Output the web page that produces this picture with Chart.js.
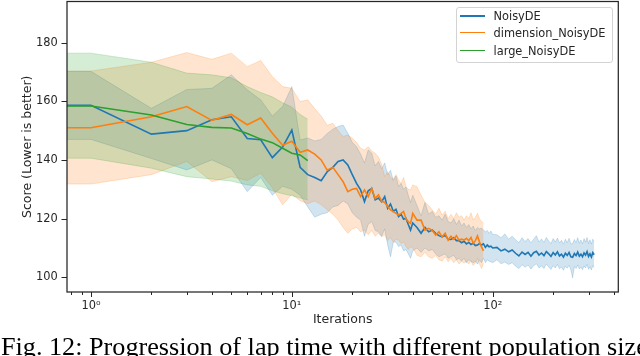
<!DOCTYPE html>
<html>
<head>
<meta charset="utf-8">
<script src="https://cdn.jsdelivr.net/npm/chart.js@4.4.1/dist/chart.umd.min.js"></script>
<style>
  html, body { margin: 0; padding: 0; background: #fff; }
  #wrap { position: relative; width: 640px; height: 356px; overflow: hidden; }
  #chart { position: absolute; left: 0; top: 0; }
  .legend { position: absolute; left: 456px; top: 7px; width: 155px; height: 54px;
            border: 1px solid #d3d3d3; border-radius: 3px; background: rgba(255,255,255,0.8);
            font: 11.4px 'DejaVu Sans'; color: #262626; }
  .legend .row { position: absolute; left: 0; height: 14px; line-height: 14px; width: 150px; }
  .legend .swatch { position: absolute; left: 2.5px; top: 6px; width: 25px; height: 0; border-top: 1.6px solid; }
  .legend .label { position: absolute; left: 36.5px; top: 0; white-space: nowrap; }
  .caption { position: absolute; left: 1px; top: 333.5px; font: 26.2px/26px 'Liberation Serif';
             white-space: nowrap; color: #000; }
</style>
</head>
<body>
<div id="wrap">
  <canvas id="chart" width="640" height="356"></canvas>
  <div class="legend">
    <div class="row" style="top:1px"><span class="swatch" style="border-color:#1f77b4;border-top-width:2px"></span><span class="label">NoisyDE</span></div>
    <div class="row" style="top:18.3px"><span class="swatch" style="border-color:#ff7f0e;border-top-width:1.2px"></span><span class="label">dimension_NoisyDE</span></div>
    <div class="row" style="top:36px"><span class="swatch" style="border-color:#2ca02c"></span><span class="label">large_NoisyDE</span></div>
  </div>
  <div class="caption">Fig. 12: Progression of lap time with different population size</div>
</div>
<script>
// NoisyDE
const noisyIter = [
  1, 2, 3, 4, 5, 6, 7, 8, 9, 10, 11, 12, 13, 14, 15, 16, 17, 18, 19, 20,
  21, 22, 23, 24, 25, 26, 27, 28, 29, 30, 31, 32, 33, 34, 35, 36, 37, 38, 39, 40,
  42, 44, 46, 48, 50, 52, 54, 56, 58, 60, 62, 64, 66, 68, 70, 72, 74, 76, 78, 80,
  82, 84, 86, 88, 90, 92, 94, 96, 98, 100,
  105, 110, 115, 120, 125, 130, 135, 140, 145, 150, 155, 160, 165, 170, 175, 180, 185, 190, 195, 200,
  205, 210, 215, 220, 225, 230, 235, 240, 245, 250, 255, 260, 265, 270, 275, 280, 285, 290, 295, 300,
  305, 310, 315, 320
];
const noisyMean = [
  158.6, 148.8, 150.0, 153.7, 154.7, 147.3, 146.9, 140.8, 144.4, 150.2,
  137.5, 135.0, 134.0, 132.9, 136.0, 137.5, 139.5, 140.0, 138.3, 135.0,
  132.0, 129.8, 125.8, 129.5, 130.3, 126.4, 127.0, 125.8, 127.5, 123.5,
  125.0, 122.5, 123.2, 120.7, 121.5, 119.8, 120.1, 118.0, 116.1, 118.5,
  117.0, 115.0, 117.0, 115.5, 116.1, 115.0, 114.2, 113.8, 114.3, 113.0,
  112.9, 113.5, 112.5, 112.5, 111.8, 112.3, 111.4, 111.9, 111.2, 111.6,
  110.8, 111.0, 111.5, 111.0, 111.4, 110.2, 111.0, 110.4, 110.6, 110.0,
  110.2, 109.0, 109.6, 108.7, 109.3, 108.2, 107.3, 108.6, 107.8, 108.5,
  107.2, 108.4, 108.9, 107.6, 108.3, 107.4, 108.8, 108.0, 107.1, 108.4,
  107.6, 108.7, 107.3, 107.9, 106.9, 108.2, 107.5, 108.5, 107.0, 106.8,
  108.1, 107.4, 108.6, 107.2, 107.9, 107.0, 108.3, 107.6, 108.8, 107.1,
  108.0, 106.9, 108.4, 107.7
];
const noisyHigh = [
  170.2, 157.6, 164.0, 164.4, 169.0, 163.9, 160.5, 155.0, 158.2, 165.0,
  146.8, 147.5, 146.5, 147.0, 149.0, 150.5, 151.4, 151.9, 149.1, 146.0,
  144.5, 142.0, 139.0, 143.4, 142.3, 138.0, 139.5, 137.0, 139.0, 134.9,
  136.5, 133.0, 134.5, 131.0, 132.0, 130.0, 130.8, 128.0, 125.5, 128.0,
  124.5, 121.0, 125.5, 121.5, 122.5, 120.5, 121.0, 119.5, 121.5, 119.0,
  118.5, 120.0, 118.0, 119.5, 117.5, 118.5, 117.0, 118.0, 116.5, 117.5,
  116.0, 117.0, 116.5, 116.8, 116.1, 115.5, 116.0, 115.0, 115.8, 114.6,
  114.5, 113.5, 114.8, 113.0, 114.0, 112.8, 111.8, 113.5, 112.2, 113.2,
  111.8, 113.0, 114.2, 112.0, 113.1, 111.9, 113.6, 112.4, 111.5, 113.2,
  112.0, 113.4, 111.7, 112.6, 111.3, 113.0, 111.8, 113.3, 111.4, 111.5,
  112.9, 111.8, 113.5, 111.6, 112.7, 111.4, 113.2, 112.0, 113.6, 111.5,
  112.8, 111.3, 113.0, 112.2
];
const noisyLow = [
  147.0, 140.5, 136.6, 140.0, 137.0, 129.2, 134.0, 128.0, 131.0, 130.0,
  128.0, 124.0, 120.5, 121.5, 122.0, 124.0, 124.5, 126.0, 125.0, 122.0,
  120.5, 119.5, 114.0, 118.0, 119.0, 116.0, 115.5, 114.0, 116.5, 111.0,
  107.0, 112.0, 112.0, 110.5, 111.0, 109.0, 109.5, 108.0, 106.5, 109.0,
  110.0, 108.5, 110.0, 109.0, 109.5, 108.0, 107.0, 107.5, 108.0, 106.5,
  107.0, 107.5, 106.0, 106.5, 105.5, 106.5, 105.0, 106.0, 105.5, 105.0,
  105.5, 104.5, 106.0, 105.0, 106.5, 105.0, 106.0, 105.5, 105.3, 105.0,
  106.0, 104.6, 105.2, 104.4, 105.0, 103.8, 103.0, 104.3, 103.4, 104.2,
  102.8, 104.0, 104.6, 103.2, 103.9, 103.0, 104.5, 103.5, 102.7, 104.0,
  103.2, 104.4, 102.9, 103.5, 102.4, 103.8, 103.1, 104.1, 102.5, 99.8,
  103.7, 103.0, 104.2, 102.8, 103.5, 102.6, 103.9, 103.2, 104.4, 102.7,
  103.6, 102.5, 104.0, 103.3
];

// dimension_NoisyDE
const dimIter = [
  1, 2, 3, 4, 5, 6, 7, 8, 9, 10, 11, 12, 13, 14, 15, 16, 17, 18, 19, 20,
  21, 22, 23, 24, 25, 26, 27, 28, 29, 30, 31, 32, 33, 34, 35, 36, 37, 38, 39, 40,
  42, 44, 46, 48, 50, 52, 54, 56, 58, 60, 62, 64, 66, 68, 70, 72, 74, 76, 78, 80,
  82, 84, 86, 88, 90
];
const dimMean = [
  151.0, 154.7, 158.2, 153.5, 155.5, 152.0, 154.3, 149.1, 145.0, 146.4,
  142.6, 143.4, 142.0, 140.0, 136.5, 137.5, 135.0, 132.6, 129.2, 130.0,
  130.3, 127.5, 129.8, 127.5, 130.3, 126.9, 128.1, 126.0, 125.5, 124.1,
  123.0, 122.4, 121.8, 121.2, 121.8, 122.4, 120.0, 119.0, 118.4, 121.8,
  119.5, 119.5, 116.1, 116.7, 116.0, 114.4, 115.5, 113.8, 115.0, 112.7,
  114.0, 113.0, 114.2, 112.7, 113.0, 112.7, 113.3, 112.5, 113.6, 111.6,
  112.5, 114.1, 112.0, 110.4, 109.0
];
const dimHigh = [
  170.3, 173.3, 176.6, 174.3, 176.4, 171.8, 173.9, 168.4, 165.0, 164.4,
  159.9, 160.5, 157.5, 155.0, 151.8, 152.5, 150.0, 148.0, 148.5, 147.4,
  146.0, 144.0, 143.4, 144.5, 143.0, 142.3, 141.0, 138.5, 134.3, 136.0,
  134.0, 133.5, 135.0, 133.2, 132.0, 134.0, 131.0, 130.0, 129.8, 131.5,
  130.9, 128.0, 125.5, 124.5, 123.0, 121.5, 123.5, 121.2, 122.5, 120.0,
  121.5, 120.0, 122.0, 120.5, 121.0, 119.5, 121.0, 120.0, 122.0, 119.5,
  120.5, 121.8, 120.0, 119.0, 118.5
];
const dimLow = [
  131.8, 135.0, 139.5, 132.6, 134.3, 133.0, 135.5, 130.5, 124.7, 128.3,
  126.1, 125.1, 126.0, 124.7, 123.0, 121.5, 119.5, 117.0, 115.0, 116.5,
  117.0, 115.5, 116.1, 114.5, 116.0, 114.0, 115.0, 113.8, 114.5, 112.5,
  113.5, 112.0, 113.0, 112.7, 111.5, 112.0, 110.5, 109.5, 110.4, 110.0,
  107.5, 107.0, 108.5, 107.0, 106.5, 107.5, 106.0, 105.5, 107.0, 105.3,
  106.5, 105.0, 106.0, 104.5, 105.5, 104.8, 105.5, 104.5, 105.5, 104.0,
  105.0, 106.5, 104.5, 103.0, 104.8
];

// large_NoisyDE
const largeIter = [1, 2, 3, 4, 5, 6, 7, 8, 9, 10, 11, 12];
const largeMean = [158.4, 155.3, 152.1, 151.1, 150.9, 149.0, 147.1, 145.9, 144.0, 142.3, 141.7, 139.8];
const largeHigh = [176.4, 173.3, 169.6, 169.0, 168.0, 165.0, 163.0, 161.5, 159.5, 158.0, 155.5, 153.9];
const largeLow  = [140.6, 137.2, 134.3, 133.5, 132.8, 131.5, 131.0, 129.5, 128.5, 127.8, 127.0, 126.4];

const yTicks = [100, 120, 140, 160, 180];
const xMajorTicks = [1, 10, 100];
const xTickLabels = ['10\u2070', '10\u00b9', '10\u00b2'];
const xMinorTicks = [0.8, 0.9, 2, 3, 4, 5, 6, 7, 8, 9, 20, 30, 40, 50, 60, 70, 80, 90, 200, 300, 400];

const INK = '#262626';

// iteration 0 is clipped by the log axis in the source, so each curve
// comes in flat from the left edge at its first value
function pts(xs, ys) {
  return [{ x: 0.5, y: ys[0] }].concat(xs.map((x, i) => ({ x: x, y: ys[i] })));
}

function band(xs, hi, lo, rgb, order) {
  const edge = 'rgba(' + rgb + ',0.25)';
  return [
    { data: pts(xs, hi), fill: '+1', backgroundColor: 'rgba(' + rgb + ',0.2)',
      borderColor: edge, borderWidth: 0.8, pointRadius: 0, order: order },
    { data: pts(xs, lo), fill: false, borderColor: edge, borderWidth: 0.8,
      pointRadius: 0, order: order }
  ];
}

function line(xs, ys, color, order) {
  return { data: pts(xs, ys), borderColor: color, borderWidth: 1.6, pointRadius: 0,
           fill: false, order: order };
}

// matplotlib style box + outward ticks
const frame = {
  id: 'frame',
  afterDraw(chart) {
    const { ctx, chartArea: a, scales: { x, y } } = chart;
    ctx.save();
    ctx.strokeStyle = INK;
    ctx.lineWidth = 1.25;
    ctx.strokeRect(a.left, a.top, a.right - a.left, a.bottom - a.top);
    ctx.lineWidth = 1;
    ctx.beginPath();
    y.ticks.forEach(t => {
      const py = Math.round(y.getPixelForValue(t.value)) + 0.5;
      ctx.moveTo(a.left - 5.5, py);
      ctx.lineTo(a.left, py);
    });
    x.ticks.forEach(t => {
      const px = Math.round(x.getPixelForValue(t.value)) + 0.5;
      ctx.moveTo(px, a.bottom);
      ctx.lineTo(px, a.bottom + (t.major ? 5 : 3));
    });
    ctx.stroke();
    ctx.restore();
  }
};

// keep the plot box where the figure has it, no room kept for edge labels
function noEdgePad(s) {
  s.paddingTop = 0;
  s.paddingBottom = 0;
  s.paddingLeft = 0;
  s.paddingRight = 0;
}

Chart.defaults.font.family = "'DejaVu Sans'";
Chart.defaults.color = INK;

new Chart(document.getElementById('chart').getContext('2d'), {
  type: 'line',
  data: {
    datasets: [
      line(largeIter, largeMean, '#2ca02c', 0),
      line(dimIter, dimMean, '#ff7f0e', 1),
      line(noisyIter, noisyMean, '#1f77b4', 2),
      ...band(largeIter, largeHigh, largeLow, '44,160,44', 3),
      ...band(dimIter, dimHigh, dimLow, '255,127,14', 4),
      ...band(noisyIter, noisyHigh, noisyLow, '31,119,180', 5)
    ]
  },
  options: {
    responsive: false,
    animation: false,
    devicePixelRatio: 1,
    layout: { padding: { top: 1.5, right: 21.7, left: 0, bottom: 0 } },
    elements: { line: { tension: 0 } },
    plugins: { legend: { display: false }, tooltip: { enabled: false } },
    scales: {
      x: {
        type: 'logarithmic',
        min: 0.76,
        max: 422,
        afterBuildTicks: s => {
          s.ticks = xMajorTicks.concat(xMinorTicks).sort((a, b) => a - b)
            .map(v => ({ value: v, major: xMajorTicks.includes(v) }));
        },
        afterFit: s => { s.height = 64; noEdgePad(s); },
        grid: { display: false, drawTicks: false },
        border: { display: false },
        ticks: {
          autoSkip: false, maxRotation: 0, minRotation: 0, padding: 7,
          font: { size: 11.4 },
          callback: v => {
            const k = xMajorTicks.indexOf(v);
            return k >= 0 ? xTickLabels[k] : '';
          }
        },
        title: { display: true, text: 'Iterations', font: { size: 12.5 },
                 padding: { top: 0, bottom: 28.5 } }
      },
      y: {
        min: 95,
        max: 194,
        afterBuildTicks: s => { s.ticks = yTicks.map(v => ({ value: v })); },
        afterFit: s => { s.width = 67; noEdgePad(s); },
        grid: { display: false, drawTicks: false },
        border: { display: false },
        ticks: { padding: 9.3, font: { size: 11.4 } },
        title: { display: true, text: 'Score (Lower is better)', font: { size: 12.5 },
                 padding: { top: 20, bottom: 0 } }
      }
    }
  },
  plugins: [frame]
});
</script>
</body>
</html>
